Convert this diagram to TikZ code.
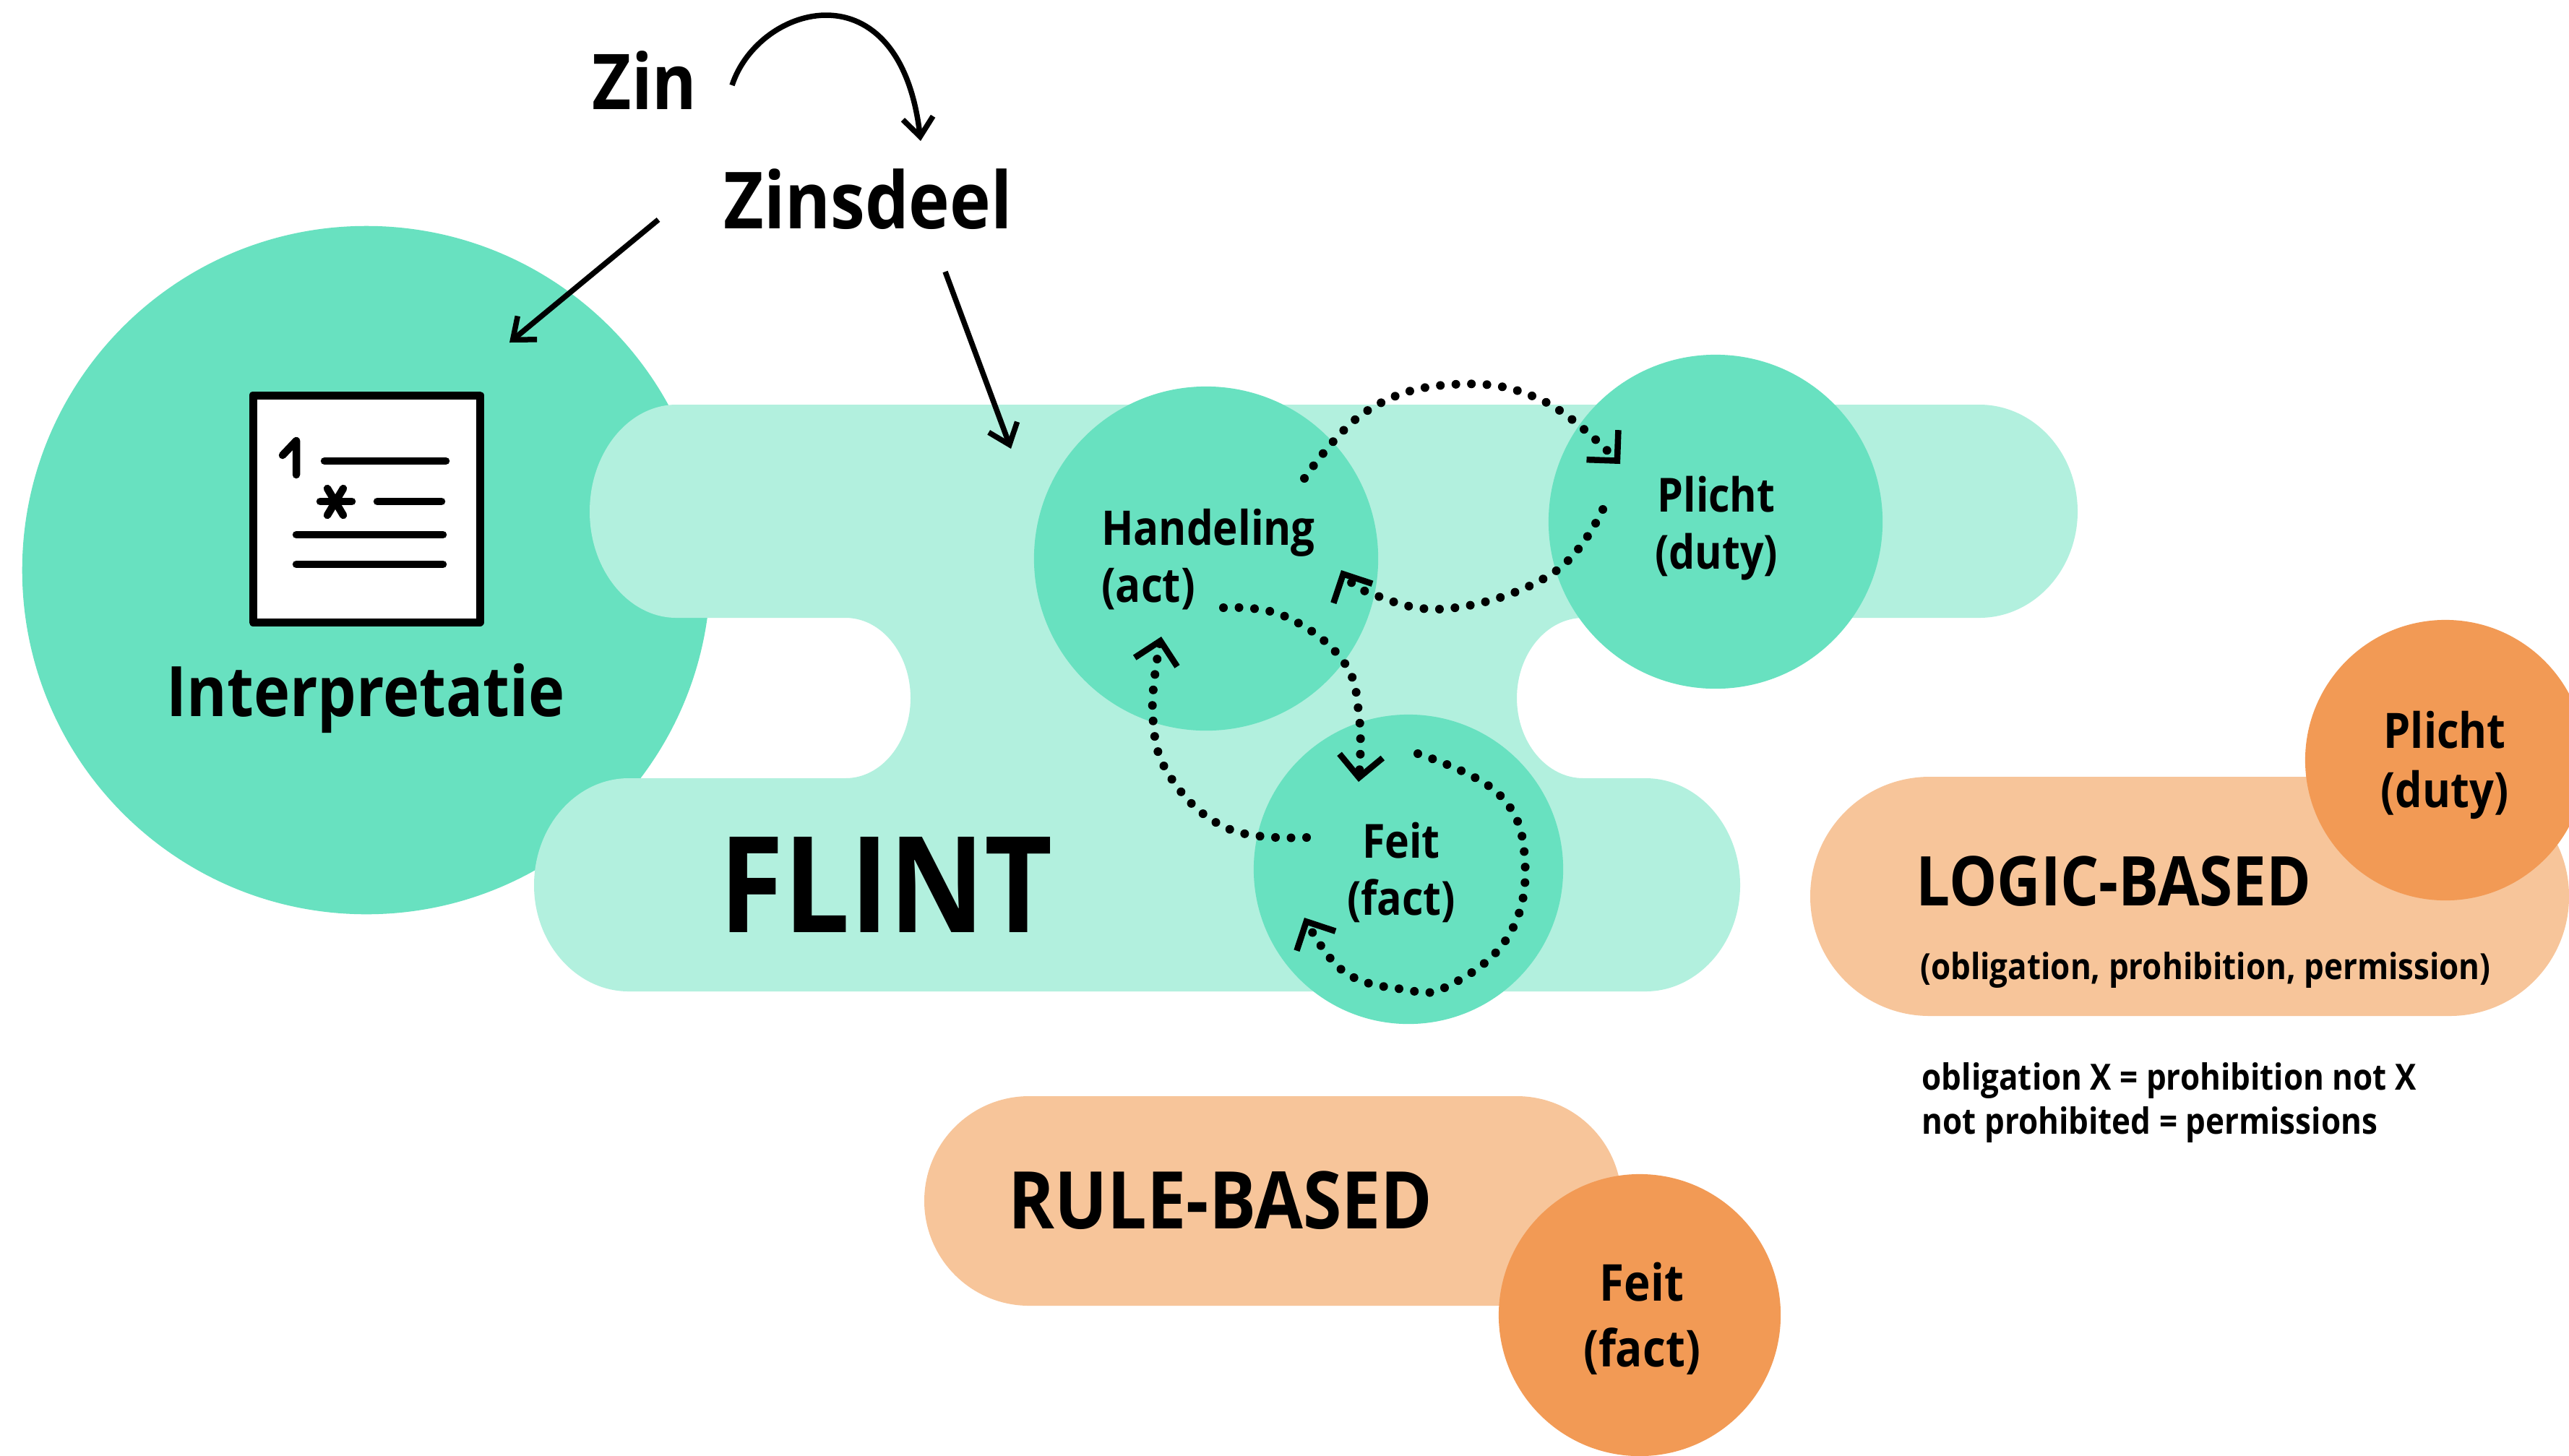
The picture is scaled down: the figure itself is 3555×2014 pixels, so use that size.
\documentclass[tikz,border=0pt]{standalone}
\usepackage{fontspec}
\setmainfont{Open Sans}[FakeStretch=0.88]
\usetikzlibrary{arrows.meta}
\definecolor{teal}{HTML}{68E1C0}
\definecolor{lteal}{HTML}{B2F0DE}
\definecolor{lorange}{HTML}{F7C59A}
\definecolor{dorange}{HTML}{F29A55}
\tikzset{
  px/.style={x=0.01cm,y=-0.01cm},
  lbl/.style={inner sep=0pt,font=\bfseries,align=center,text=black},
  disc/.style={circle,fill=teal,draw=none,inner sep=0pt},
  odisc/.style={circle,fill=dorange,draw=none,inner sep=0pt},
  pill/.style={fill=lorange,draw=none},
  solidarrow/.style={line width=0.075cm,-{Straight Barb[length=0.26cm,width=0.42cm,line width=0.075cm]}},
  dotarrow/.style={line width=0.12cm,line cap=round,dash pattern=on 0pt off 0.215cm,
    -{Straight Barb[length=0.3cm,width=0.6cm,line width=0.085cm]}},
  icon/.style={line width=0.105cm,line cap=round,line join=round},
}
\newcommand{\tsz}[2]{\fontsize{#1}{#2}\selectfont}
\begin{document}
\begin{tikzpicture}[px]
\useasboundingbox (0,0) rectangle (3555,2014);
\fill[white] (0,0) rectangle (3555,2014);
% big circle
\node[disc,minimum size=9.52cm] (interp) at (507,789) {};
% FLINT blob
\fill[lteal] (936,560) -- (2739,560)
  .. controls (2814,560) and (2875,626) .. (2875,708)
  .. controls (2875,789) and (2814,855) .. (2739,855)
  -- (2191,855)
  .. controls (2140,855) and (2099,905) .. (2099,966)
  .. controls (2099,1027) and (2140,1077) .. (2191,1077)
  -- (2277,1077)
  .. controls (2349,1077) and (2408,1143) .. (2408,1225)
  .. controls (2408,1306) and (2349,1372) .. (2277,1372)
  -- (870,1372)
  .. controls (798,1372) and (739,1306) .. (739,1225)
  .. controls (739,1143) and (798,1077) .. (870,1077)
  -- (1170,1077)
  .. controls (1220,1077) and (1260,1027) .. (1260,966)
  .. controls (1260,905) and (1220,855) .. (1170,855)
  -- (936,855)
  .. controls (870,855) and (816,789) .. (816,708)
  .. controls (816,626) and (870,560) .. (936,560) -- cycle;
% circles
\node[disc,minimum size=4.76cm] (act) at (1669,773) {};
\node[disc,minimum size=4.62cm] (duty) at (2374,722) {};
\node[disc,minimum size=4.28cm] (fact) at (1949,1203) {};
% pills
\fill[pill,rounded corners=1.65cm] (2505,1075) rectangle (3555,1406);
\fill[pill,rounded corners=1.45cm] (1279,1517) rectangle (2244,1807);
\node[odisc,minimum size=3.88cm] (oduty) at (3384,1052) {};
\node[odisc,minimum size=3.9cm] (ofact) at (2269,1820) {};
% icon
\draw[line width=0.11cm,fill=white,line join=round] (350,547) rectangle (664,861);
\draw[icon] (391,630) -- (410,610) -- (410,657);
\draw[icon] (449,638) -- (617,638);
\draw[icon] (443,694) -- (487,694);
\draw[icon] (453,676) -- (475,713);
\draw[icon] (475,676) -- (453,713);
\draw[icon] (522,694) -- (611,694);
\draw[icon] (410,740) -- (613,740);
\draw[icon] (410,781) -- (613,781);
% text
\node[lbl,font=\bfseries\tsz{30.3}{36}] (zin) at (892,111) {Zin};
\node[lbl,font=\bfseries\tsz{31}{36}] (zinsdeel) at (1201,276) {Zinsdeel};
\node[lbl,font=\bfseries\tsz{27.4}{33}] (interptext) at (506,966) {Interpretatie};
\node[lbl,font=\bfseries\tsz{52.6}{60}] (flint) at (1226,1224) {FLINT};
\node[lbl,font=\bfseries\tsz{18.8}{22.5},align=left] (acttext) at (1672,774) {Handeling\\(act)};
\node[lbl,font=\bfseries\tsz{18.5}{22.5}] (dutytext) at (2375,731) {Plicht\\(duty)};
\node[lbl,font=\bfseries\tsz{18.5}{22.5}] (facttext) at (1939,1207) {Feit\\(fact)};
\node[lbl,font=\bfseries\tsz{19.2}{23.5}] (odutytext) at (3383,1059) {Plicht\\(duty)};
\node[lbl,font=\bfseries\tsz{20}{26}] (ofacttext) at (2272,1825) {Feit\\(fact)};
\node[lbl,font=\bfseries\tsz{27}{33}] (logic) at (2925,1220) {LOGIC-BASED};
\node[lbl,font=\bfseries\tsz{31.3}{36}] (rule) at (1689,1661) {RULE-BASED};
\node[lbl,font=\bfseries\tsz{14.2}{17}] (logicsub) at (3052,1342) {(obligation, prohibition, permission)};
\node[lbl,font=\bfseries\tsz{14.2}{17.5},align=left,anchor=west] (note) at (2659,1526) {obligation X = prohibition not X\\not prohibited = permissions};
% solid arrows
\coordinate (zinout) at (1013,118);
\coordinate (zindeelin) at (1274,195);
\coordinate (deelL) at (911,304);
\coordinate (interpin) at (705,474);
\coordinate (deelR) at (1308,376);
\coordinate (flintin) at (1399,621);
\draw[solidarrow] (zinout) .. controls (1050,5) and (1245,-50) .. (zindeelin);
\draw[solidarrow] (deelL) -- (interpin);
\draw[solidarrow] (deelR) -- (flintin);
% dotted arrows
\draw[dotarrow] plot[smooth,tension=0.7] coordinates {(1805,662) (1891,569) (2011,532) (2136,555) (2242,642)};
\draw[dotarrow] plot[smooth,tension=0.7] coordinates {(2218,705) (2149,793) (2006,842) (1896,821) (1856,789)};
\draw[dotarrow] plot[smooth,tension=0.7] coordinates {(1693,841) (1776,852) (1858,914) (1881,994) (1880,1082)};
\draw[dotarrow] plot[smooth,tension=0.7] coordinates {(1808,1159) (1700,1147) (1620,1076) (1595,988) (1607,881)};
\draw[dotarrow] plot[smooth,tension=0.7] coordinates {(1962,1043) (2073,1098) (2110,1189) (2087,1296) (2003,1365) (1941,1369) (1859,1344) (1805,1270)};
\end{tikzpicture}
\end{document}
